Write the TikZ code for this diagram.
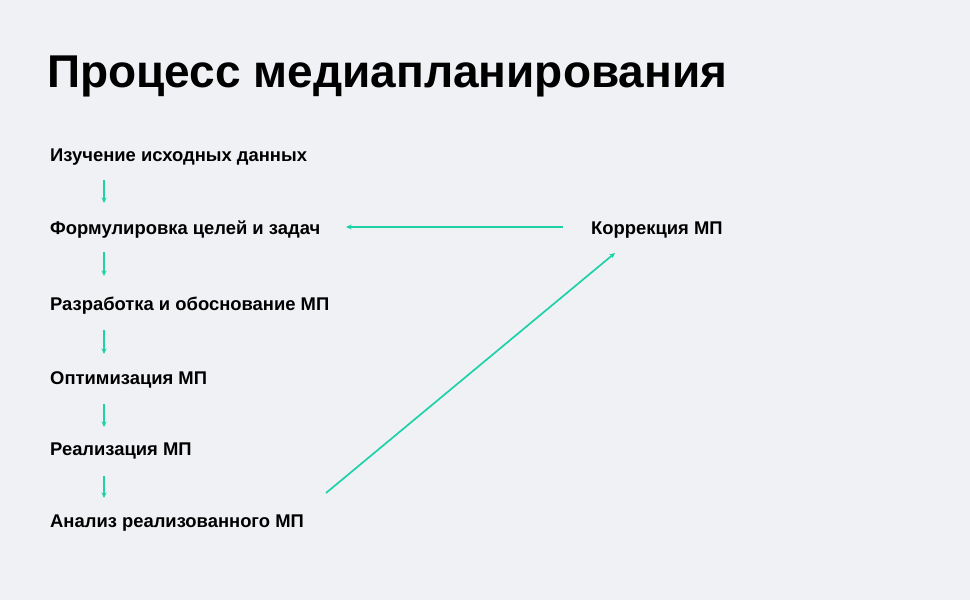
\documentclass[tikz,border=0pt]{standalone}
\usepackage{fontspec}
\setmainfont{Liberation Sans}
\usetikzlibrary{arrows.meta}
\definecolor{bg}{HTML}{F0F1F5}
\definecolor{acc}{HTML}{1ED2A8}
\begin{document}
\begin{tikzpicture}[x=1pt,y=-1pt,
  item/.style={anchor=base west,inner sep=0pt,font=\fontsize{18.4}{21}\selectfont\bfseries,text=black},
  arr/.style={draw=acc,line width=1.7pt,-{Stealth[length=5.5pt,width=5pt]}}]
\fill[bg] (0,0) rectangle (970,600);
\useasboundingbox (0,0) rectangle (970,600);
\node[anchor=base west,inner sep=0pt,font=\fontsize{46}{52}\selectfont\bfseries] (title) at (47,87) {Процесс медиапланирования};
\node[item] (s1) at (50,161) {Изучение исходных данных};
\node[item] (s2) at (50,234) {Формулировка целей и задач};
\node[item] (s3) at (50,310) {Разработка и обоснование МП};
\node[item] (s4) at (50,384) {Оптимизация МП};
\node[item] (s5) at (50,455) {Реализация МП};
\node[item] (s6) at (50,527) {Анализ реализованного МП};
\node[item] (k) at (591,234) {Коррекция МП};
\coordinate (a1s) at (104,180); \coordinate (a1e) at (104,203);
\coordinate (a2s) at (104,252); \coordinate (a2e) at (104,276);
\coordinate (a3s) at (104,330); \coordinate (a3e) at (104,354);
\coordinate (a4s) at (104,404); \coordinate (a4e) at (104,427);
\coordinate (a5s) at (104,476); \coordinate (a5e) at (104,498);
\coordinate (hs) at (563,227); \coordinate (he) at (346,227);
\coordinate (ds) at (326,493); \coordinate (de) at (615,253);
\draw[arr] (a1s) -- (a1e);
\draw[arr] (a2s) -- (a2e);
\draw[arr] (a3s) -- (a3e);
\draw[arr] (a4s) -- (a4e);
\draw[arr] (a5s) -- (a5e);
\draw[arr] (hs) -- (he);
\draw[arr] (ds) -- (de);
\end{tikzpicture}
\end{document}
